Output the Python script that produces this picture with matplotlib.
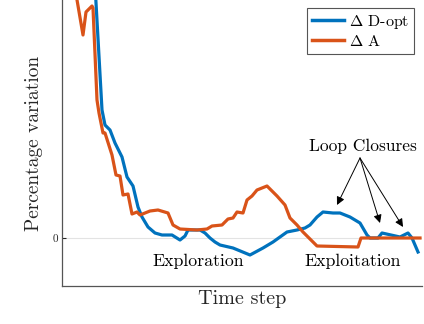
import matplotlib
matplotlib.use("Agg")
import matplotlib.pyplot as plt

plt.rcParams['font.family'] = ['cmr10', 'DejaVu Serif']
plt.rcParams['mathtext.fontset'] = 'cm'
plt.rcParams['axes.unicode_minus'] = False
plt.rcParams['axes.formatter.use_mathtext'] = True

# Delta D-opt (blue)
t_dopt = [33, 40, 43, 48, 53, 60, 65, 71, 76, 80, 86, 93, 100, 110, 118, 123, 126, 138,
          143, 148, 153, 158, 171, 188, 201, 211, 225, 235, 243, 248, 255, 261, 271,
          278, 288, 298, 305, 308, 316, 320, 338, 346, 350, 356]
v_dopt = [253, 128, 113, 108, 95, 81, 61, 52, 31, 21, 11, 5, 3, 3, -2, 2, 8, 8,
          5, 0, -4, -7, -10, -17, -10, -4, 6, 8, 10, 13, 21, 26, 25,
          25, 21, 15, 3, 0, 0, 5, 1, 5, 0, -14]

# Delta A (orange)
t_a = [14, 21, 24, 30, 31, 35, 37, 41, 43, 50, 54, 58, 61, 66, 70, 75, 78, 88, 96,
       106, 111, 118, 135, 145, 150, 160, 166, 171, 175, 181, 185, 190, 195, 205,
       215, 223, 228, 235, 241, 246, 250, 255, 296, 299, 358]
v_a = [244, 203, 226, 232, 230, 138, 125, 105, 105, 83, 63, 62, 43, 44, 24, 26, 23, 27, 28,
       25, 13, 9, 8, 9, 12, 13, 19, 20, 26, 25, 38, 42, 48, 52,
       42, 33, 20, 13, 6, 1, -3, -8, -9, 0, 0]

fig = plt.figure(figsize=(4.24, 3.24), dpi=100)
ax = fig.add_axes([62/424, 38/324, 360/424, 286/324])

blue = '#0072BD'
orange = '#D95319'

ax.axhline(0, color='#e3e3e3', lw=0.8, zorder=0)
ax.plot(t_dopt, v_dopt, color=blue, lw=2.3, label=r'$\Delta$ D-opt', solid_joinstyle='round')
ax.plot(t_a, v_a, color=orange, lw=2.3, label=r'$\Delta$ A', solid_joinstyle='round')

ax.set_xlim(0, 360)
ax.set_ylim(-48, 238)
ax.set_xticks([])
ax.set_yticks([0])
ax.set_yticklabels(['0'], fontsize=8)
ax.tick_params(axis='y', direction='in', length=3, width=0.8, colors='#262626', pad=3)

for s in ['top', 'right']:
    ax.spines[s].set_visible(False)
for s in ['left', 'bottom']:
    ax.spines[s].set_color('#555555')
    ax.spines[s].set_linewidth(0.9)

ax.set_xlabel('Time step', fontsize=14.5, labelpad=3, color='#262626')
ax.set_ylabel('Percentage variation', fontsize=14, labelpad=7, color='#262626')

ax.text(136, -23, 'Exploration', fontsize=12.8, ha='center', va='center')
ax.text(291, -23, 'Exploitation', fontsize=12.8, ha='center', va='center')
ax.text(301, 92, 'Loop Closures', fontsize=12.5, ha='center', va='center')

origin = (298, 80)
for head in [(275, 33), (318, 15), (341, 11)]:
    ax.annotate('', xy=head, xytext=origin,
                arrowprops=dict(arrowstyle='-|>', color='black', lw=0.7,
                                mutation_scale=12, shrinkA=0, shrinkB=0))

leg = ax.legend(loc='upper right', fontsize=11.5, frameon=True, fancybox=False,
                edgecolor='#555555', framealpha=1, handlelength=2.0,
                borderpad=0.3, labelspacing=0.2, handletextpad=0.3,
                borderaxespad=0.5)
leg.get_frame().set_linewidth(0.8)
for line in leg.get_lines():
    line.set_linewidth(2.5)

fig.savefig('out.png', dpi=100)
